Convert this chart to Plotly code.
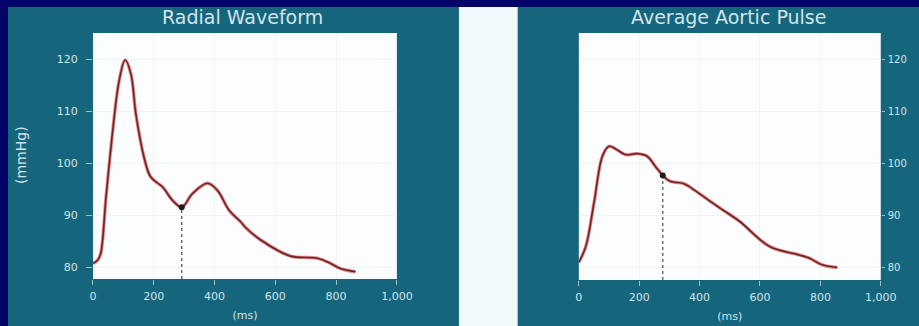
import plotly.graph_objects as go

# Radial (peripheral) pressure waveform, time in ms, pressure in mmHg
radial_t = [0, 15, 25, 43, 65, 86, 106, 125, 141, 168, 190, 229, 262, 292, 327,
            377, 410, 448, 486, 502, 552, 650, 738, 782, 814, 864]
radial_p = [80.7, 81.3, 82.5, 93.5, 106.2, 115.8, 119.8, 117.1, 109.5, 101.1, 97.3,
            95.4, 92.8, 91.5, 94.1, 96.1, 94.7, 90.9, 88.7, 87.6, 85.2, 82.1, 81.7,
            80.7, 79.7, 79.1]
radial_notch = (292, 91.5)

# Derived average aortic pulse
aortic_t = [0, 23, 50, 78, 100, 122, 155, 193, 226, 253, 278, 302, 346, 373, 434,
            480, 533, 632, 730, 763, 806, 856]
aortic_p = [81.1, 84.1, 92.4, 101.4, 103.3, 102.8, 101.7, 101.9, 101.4, 99.5, 97.7,
            96.6, 96.2, 95.3, 92.8, 91.0, 88.9, 84.1, 82.5, 81.9, 80.6, 80.1]
aortic_notch = (278, 97.7)

titles = ["Radial Waveform", "Average Aortic Pulse"]
x_ticks = [0, 200, 400, 600, 800, 1000]
y_ticks = [80, 90, 100, 110, 120]

W, H = 919, 326
NAVY = "#03036a"
TEAL = "#15657c"
TXT = "#d3e4ea"
FONT = "DejaVu Sans"
Y_RANGE = [77.7, 125.0]


def px(x):
    """Horizontal pixel position -> paper fraction (calibrated for the rendered page width)."""
    return (x - 3) / 0.9785 / W


def py(y):
    """Vertical pixel position from the top -> paper fraction."""
    return (H - y) / H


fig = go.Figure()


def add_panel(t, p, notch, xa, ya):
    # wide soft red underneath, dark red core on top
    fig.add_trace(go.Scatter(x=t, y=p, mode="lines", line=dict(color="#e58a88", width=3.4, shape="spline"),
                             xaxis=xa, yaxis=ya, hoverinfo="skip", showlegend=False))
    fig.add_trace(go.Scatter(x=t, y=p, mode="lines", line=dict(color="#6e2326", width=1.6, shape="spline"),
                             xaxis=xa, yaxis=ya, showlegend=False))
    # dotted drop line from the dicrotic notch to the time axis
    fig.add_trace(go.Scatter(x=[notch[0], notch[0]], y=[Y_RANGE[0], notch[1]], mode="lines",
                             line=dict(color="#585c60", width=1.3, dash="dot"),
                             xaxis=xa, yaxis=ya, hoverinfo="skip", showlegend=False))
    fig.add_trace(go.Scatter(x=[notch[0]], y=[notch[1]], mode="markers",
                             marker=dict(color="#1d1d1d", size=6),
                             xaxis=xa, yaxis=ya, showlegend=False))


add_panel(radial_t, radial_p, radial_notch, "x", "y")
add_panel(aortic_t, aortic_p, aortic_notch, "x2", "y2")

tickfont = dict(family=FONT, size=11, color=TXT)
xcommon = dict(range=[0, 1000], tickvals=x_ticks, tickformat=",d", ticks="outside", ticklen=5,
               tickcolor="#9fc0cc", showgrid=True, gridcolor="#edf3f6", gridwidth=1,
               zeroline=False, showline=False, tickfont=tickfont, ticklabelstandoff=2,
               title=dict(text="(ms)", font=dict(family=FONT, size=11, color=TXT), standoff=9))
ycommon = dict(range=Y_RANGE, tickvals=y_ticks, ticks="outside", tickcolor="#9fc0cc",
               showgrid=True, gridcolor="#edf3f6", gridwidth=1, zeroline=False, showline=False)

panel_rects = [(7, 458, TEAL), (458, 517, "#f3fafc"), (517, W + 40, TEAL)]
shapes = [dict(type="rect", xref="paper", yref="paper", x0=px(a), x1=px(b), y0=-0.05, y1=py(7),
               fillcolor=c, line=dict(width=0), layer="below") for a, b, c in panel_rects]
# white plotting areas
for xr, yr in (("x", "y"), ("x2", "y2")):
    shapes.append(dict(type="rect", xref=f"{xr} domain", yref=f"{yr} domain", x0=0, x1=1, y0=0, y1=1,
                       fillcolor="#fbfdfe", line=dict(width=0), layer="below"))

fig.update_layout(
    width=W, height=H, autosize=False,
    margin=dict(l=0, r=0, t=0, b=0),
    paper_bgcolor=NAVY, plot_bgcolor="#fbfdfe",
    xaxis=dict(domain=[px(92), px(396)], anchor="y", **xcommon),
    yaxis=dict(domain=[py(279), py(33)], anchor="x", side="left", ticklen=6, ticklabelstandoff=6,
               tickfont=tickfont, **ycommon),
    xaxis2=dict(domain=[px(578), px(880)], anchor="y2", **xcommon),
    yaxis2=dict(domain=[py(280), py(33)], anchor="x2", side="right", ticklen=3, ticklabelstandoff=1,
                tickfont=dict(family=FONT, size=10, color=TXT), **ycommon),
    shapes=shapes,
    annotations=[
        dict(text=titles[0], x=px(242), y=py(17), xref="paper", yref="paper", showarrow=False,
             font=dict(family=FONT, size=19, color=TXT), xanchor="center", yanchor="middle"),
        dict(text=titles[1], x=px(728), y=py(17), xref="paper", yref="paper", showarrow=False,
             font=dict(family=FONT, size=19, color=TXT), xanchor="center", yanchor="middle"),
        dict(text="(mmHg)", x=px(20), y=py(155), xref="paper", yref="paper", showarrow=False,
             textangle=-90, font=dict(family=FONT, size=14, color=TXT),
             xanchor="center", yanchor="middle"),
    ],
)

fig.write_html(
    "out.html",
    config={"responsive": False, "displayModeBar": False},
    post_script="document.body.style.margin='0';document.documentElement.style.overflow='hidden';",
)
